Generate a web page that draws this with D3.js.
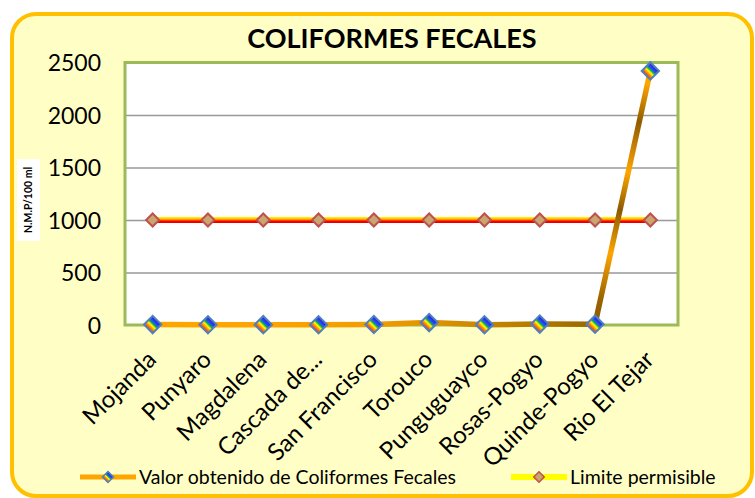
<!DOCTYPE html>
<meta charset="UTF-8">
<style>
  body { margin: 0; background: #fff; }
  svg { display: block; font-family: Lato, "Open Sans", sans-serif; }
  .xlab { font-size: 24px; fill: #000; }
  .legend text { font-size: 19.5px; fill: #000; }
</style>
<body>
<script src="https://cdn.jsdelivr.net/npm/d3@7"></script>
<script>
  // data
  var sites = ["Mojanda", "Punyaro", "Magdalena", "Cascada de...", "San Francisco",
    "Torouco", "Punguguayco", "Rosas-Pogyo", "Quinde-Pogyo", "Rio El Tejar"];
  var coliformes = [4, 2, 3, 2, 5, 23, 2, 9, 8, 2420];
  var limite = [1000, 1000, 1000, 1000, 1000, 1000, 1000, 1000, 1000, 1000];
  var yTicks = [0, 500, 1000, 1500, 2000, 2500];

  var W = 755, H = 498;
  var plot = { left: 125, top: 62.5, right: 678, bottom: 325 };

  var svg = d3.select("body").append("svg")
    .attr("width", W)
    .attr("height", H);

  var defs = svg.append("defs");

  function addStops(grad, stops) {
    stops.forEach(function(s) {
      grad.append("stop").attr("offset", s[0]).attr("stop-color", s[1]);
    });
  }

  // rainbow fill for the coliform markers
  var rainbow = defs.append("linearGradient").attr("id", "rainbow")
    .attr("x1", 0).attr("y1", 0).attr("x2", 0).attr("y2", 1);
  addStops(rainbow, [[0, "#1a1ad8"], [0.3, "#3048ff"], [0.44, "#00b050"], [0.6, "#ffff00"],
    [0.76, "#ff9900"], [1, "#ff2020"]]);

  // outer chart box
  svg.append("rect")
    .attr("x", 12).attr("y", 14)
    .attr("width", 740).attr("height", 482)
    .attr("rx", 24).attr("ry", 24)
    .attr("fill", "#ffffc5")
    .attr("stroke", "#ffc000")
    .attr("stroke-width", 4);

  // title
  svg.append("text")
    .attr("x", 392).attr("y", 48)
    .attr("text-anchor", "middle")
    .style("font-size", "27px")
    .style("font-weight", "bold")
    .text("COLIFORMES FECALES");

  var x = d3.scalePoint()
    .domain(sites)
    .range([plot.left, plot.right])
    .padding(0.5);

  var y = d3.scaleLinear()
    .domain([0, 2500])
    .range([plot.bottom, plot.top]);

  // plot area
  svg.append("rect")
    .attr("x", plot.left).attr("y", plot.top)
    .attr("width", plot.right - plot.left)
    .attr("height", plot.bottom - plot.top)
    .attr("fill", "#fff");

  // grid lines
  var grid = svg.append("g")
    .attr("transform", "translate(" + plot.left + ",0)")
    .call(d3.axisLeft(y).tickValues([500, 1000, 1500, 2000])
      .tickSize(-(plot.right - plot.left)).tickFormat(""));
  grid.select(".domain").remove();
  grid.selectAll("line").attr("stroke", "#999").attr("stroke-width", 1.5);

  svg.append("rect")
    .attr("x", plot.left).attr("y", plot.top)
    .attr("width", plot.right - plot.left)
    .attr("height", plot.bottom - plot.top)
    .attr("fill", "none")
    .attr("stroke", "#9bbb59")
    .attr("stroke-width", 3);

  // y tick labels
  var yAxis = svg.append("g")
    .attr("transform", "translate(" + (plot.left - 24) + ",0)")
    .call(d3.axisLeft(y).tickValues(yTicks).tickSize(0).tickPadding(0).tickFormat(d3.format("d")));
  yAxis.select(".domain").remove();
  yAxis.selectAll("text").attr("dy", "0.36em")
    .attr("fill", "#000")
    .style("font-family", "Lato, sans-serif").style("font-size", "23px");

  // y axis title
  var yl = svg.append("g").attr("transform", "translate(28,200) rotate(-90)");
  yl.append("rect").attr("x", -41).attr("y", -11).attr("width", 82).attr("height", 23).attr("fill", "#fff");
  yl.append("text")
    .attr("text-anchor", "middle").attr("dy", "0.35em")
    .style("font-size", "10.5px").style("font-weight", "bold")
    .text("N.M.P/100 ml");

  // x labels
  svg.append("g").selectAll("text")
    .data(sites)
    .join("text")
    .attr("class", "xlab")
    .attr("text-anchor", "end")
    .attr("transform", function(d) {
      return "translate(" + (x(d) + 5) + ",361) rotate(-45)";
    })
    .text(function(d) { return d; });

  // limit series
  var limGrad = defs.append("linearGradient").attr("id", "limgrad")
    .attr("gradientUnits", "userSpaceOnUse")
    .attr("x1", 0).attr("y1", y(1000) - 3).attr("x2", 0).attr("y2", y(1000) + 3);
  addStops(limGrad, [[0, "#ffff00"], [0.3, "#ffc000"], [0.5, "#ff8000"], [0.65, "#ff0000"], [1, "#e00000"]]);

  var line = d3.line()
    .x(function(d, i) { return x(sites[i]); })
    .y(function(d) { return y(d); });

  svg.append("path")
    .datum(limite)
    .attr("d", line)
    .attr("fill", "none")
    .attr("stroke", "url(#limgrad)")
    .attr("stroke-width", 6);

  svg.append("g").selectAll("path")
    .data(limite)
    .join("path")
    .attr("d", d3.symbol().type(d3.symbolSquare).size(85))
    .attr("transform", function(d, i) {
      return "translate(" + x(sites[i]) + "," + y(d) + ") rotate(45)";
    })
    .attr("fill", "#c9a56f")
    .attr("stroke", "#c0504d")
    .attr("stroke-width", 2);

  // coliform series: one segment per pair, each with its own metallic shading
  var segShade = [
    [[0, "#ffa500"], [1, "#ffa500"]],
    [[0, "#ffa500"], [1, "#ffa300"]],
    [[0, "#ffa300"], [1, "#f8a000"]],
    [[0, "#f8a000"], [1, "#f09c00"]],
    [[0, "#f09c00"], [1, "#e09400"]],
    [[0, "#e09400"], [1, "#c88600"]],
    [[0, "#c88600"], [1, "#b07800"]],
    [[0, "#b07800"], [1, "#9a6600"]],
    [[0, "#8a5a00"], [0.1, "#9a6400"], [0.28, "#ffa500"], [0.45, "#8a5a00"],
     [0.6, "#ffa500"], [0.8, "#8f5c00"], [0.95, "#ffa500"], [1, "#ffa500"]]
  ];

  var segs = d3.pairs(coliformes.map(function(v, i) { return [x(sites[i]), y(v)]; }));

  segs.forEach(function(s, i) {
    var g = defs.append("linearGradient").attr("id", "seg" + i)
      .attr("gradientUnits", "userSpaceOnUse")
      .attr("x1", s[0][0]).attr("y1", s[0][1])
      .attr("x2", s[1][0]).attr("y2", s[1][1]);
    addStops(g, segShade[i]);
  });

  svg.append("g").selectAll("line")
    .data(segs)
    .join("line")
    .attr("x1", function(d) { return d[0][0]; })
    .attr("y1", function(d) { return d[0][1]; })
    .attr("x2", function(d) { return d[1][0]; })
    .attr("y2", function(d) { return d[1][1]; })
    .attr("stroke", function(d, i) { return "url(#seg" + i + ")"; })
    .attr("stroke-width", 5.5)
    .attr("stroke-linecap", "round");

  svg.append("g").selectAll("path")
    .data(coliformes)
    .join("path")
    .attr("d", d3.symbol().type(d3.symbolSquare).size(150))
    .attr("transform", function(d, i) {
      return "translate(" + x(sites[i]) + "," + y(d) + ") rotate(45)";
    })
    .attr("fill", "url(#rainbow)")
    .attr("stroke", "#4f81bd")
    .attr("stroke-width", 2);

  // legend
  var legend = svg.append("g").attr("class", "legend");

  var l1 = legend.append("g").attr("transform", "translate(80,477)");
  var lg1 = defs.append("linearGradient").attr("id", "leg1")
    .attr("gradientUnits", "userSpaceOnUse")
    .attr("x1", 80).attr("y1", 0).attr("x2", 136).attr("y2", 0);
  addStops(lg1, [[0, "#ffa500"], [0.3, "#9a6400"], [0.55, "#ffa500"], [0.8, "#8a5a00"], [1, "#ffa500"]]);
  l1.append("line").attr("x1", 0).attr("x2", 56).attr("y1", 0).attr("y2", 0)
    .attr("stroke", "url(#leg1)").attr("stroke-width", 5);
  l1.append("path").attr("d", d3.symbol().type(d3.symbolSquare).size(60))
    .attr("transform", "translate(28,0) rotate(45)")
    .attr("fill", "url(#rainbow)").attr("stroke", "#4f81bd").attr("stroke-width", 1.5);
  l1.append("text").attr("x", 59).attr("y", 7).text("Valor obtenido de Coliformes Fecales");

  var l2 = legend.append("g").attr("transform", "translate(511,477)");
  var lg2 = defs.append("linearGradient").attr("id", "limgrad2")
    .attr("gradientUnits", "userSpaceOnUse")
    .attr("x1", 0).attr("y1", 474).attr("x2", 0).attr("y2", 480);
  addStops(lg2, [[0, "#ffff00"], [0.35, "#ffc000"], [0.55, "#ff6000"], [1, "#e00000"]]);
  l2.append("rect").attr("x", 0).attr("y", -3).attr("width", 56).attr("height", 6)
    .attr("fill", "url(#limgrad2)");
  l2.append("path").attr("d", d3.symbol().type(d3.symbolSquare).size(55))
    .attr("transform", "translate(28,0) rotate(45)")
    .attr("fill", "#c9a56f").attr("stroke", "#c0504d").attr("stroke-width", 1.5);
  l2.append("text").attr("x", 59).attr("y", 7).text("Limite permisible");
</script>
</body>
